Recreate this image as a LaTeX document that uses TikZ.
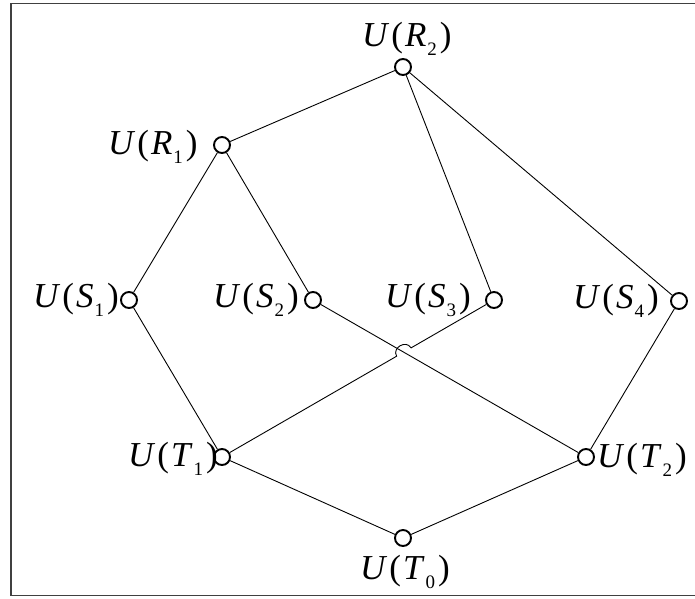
\documentclass[tikz,border=0pt]{standalone}
\usepackage{fontspec}
\setmainfont{Liberation Serif}
\usetikzlibrary{calc}
\begin{document}
\begin{tikzpicture}[x=1pt,y=1pt,
  vert/.style={circle,draw,line width=1.9pt,minimum size=16pt,inner sep=0pt},
  lab/.style={font=\fontsize{35}{37}\selectfont,inner sep=0pt,anchor=base west},
  edge/.style={line width=0.9pt}]
\useasboundingbox (0,0) rectangle (695,-598);
\draw[line width=1.4pt,black!75] (695,-3.5) -- (11,-3.5) -- (11,-595.5) -- (695,-595.5);
\newcommand{\ulab}[2]{\textit{U}\kern2pt(\kern2pt\textit{#1}\kern1pt\raisebox{-9pt}{\fontsize{19}{20}\selectfont #2}\kern3pt)}
\node[vert] (R2) at (403,-67) {};
\node[vert] (R1) at (222,-145) {};
\node[vert] (S1) at (129,-300) {};
\node[vert] (S2) at (313,-300) {};
\node[vert] (S3) at (494,-300) {};
\node[vert] (S4) at (679,-301) {};
\node[vert] (T1) at (222,-457) {};
\node[vert] (T2) at (586,-457) {};
\node[vert] (T0) at (403,-538) {};
\node[lab] (lR2) at (362,-46) {\ulab{R}{2}};
\node[lab] (lR1) at (108,-154) {\ulab{R}{1}};
\node[lab] (lS1) at (33,-307) {\ulab{S}{1}};
\node[lab] (lS2) at (213,-307) {\ulab{S}{2}};
\node[lab] (lS3) at (385,-307) {\ulab{S}{3}};
\node[lab] (lS4) at (573,-308) {\ulab{S}{4}};
\node[lab] (lT1) at (128,-466) {\ulab{T}{1}};
\node[lab] (lT2) at (597,-467) {\ulab{T}{2}};
\node[lab] (lT0) at (360,-579) {\ulab{T}{0}};
\draw[edge] (R2) -- (R1);
\draw[edge] (R2) -- (S3);
\draw[edge] (R2) -- (S4);
\draw[edge] (R1) -- (S1);
\draw[edge] (R1) -- (S2);
\draw[edge] (S1) -- (T1);
\draw[edge] (S2) -- (T2);
\draw[edge] (S4) -- (T2);
\draw[edge] (T1) -- (T0);
\draw[edge] (T2) -- (T0);
\coordinate (h1) at ($(S3)!0.305!(T1)$);
\coordinate (h2) at ($(S3)!0.358!(T1)$);
\draw[edge] (S3) -- (h1) to[bend right=90,looseness=1.5] (h2) -- (T1);
\end{tikzpicture}
\end{document}
